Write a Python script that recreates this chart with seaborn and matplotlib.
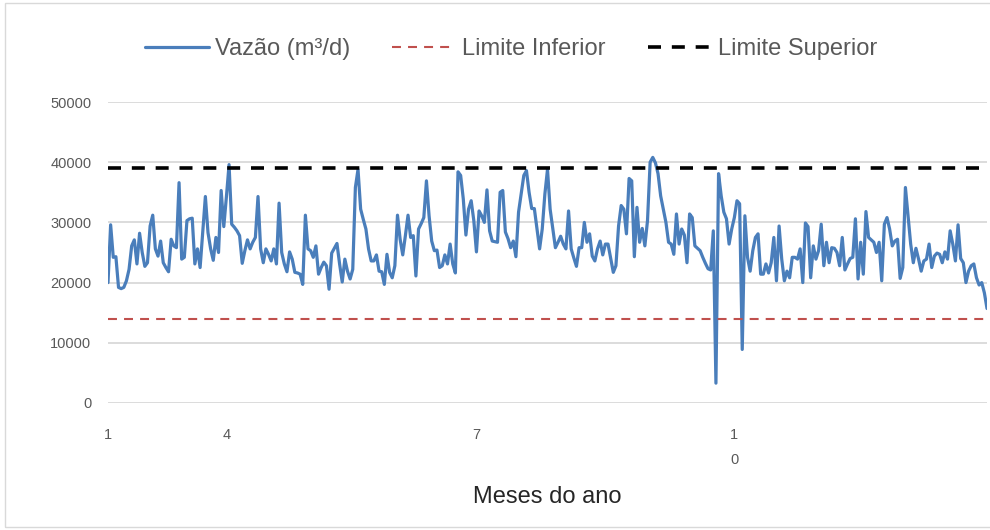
import numpy as np
import pandas as pd
import matplotlib
matplotlib.use("Agg")
import matplotlib.pyplot as plt
from matplotlib.lines import Line2D
from matplotlib.patches import Rectangle
import seaborn as sns

# Daily flow (m³/d) over the year
vazao = [
    20000, 29600, 24200, 24300, 19200, 19000, 19200, 20300, 22200, 26100,
    27100, 23100, 28200, 25000, 22700, 23300, 29400, 31200, 25600, 24400,
    26900, 23300, 22500, 21800, 27200, 26100, 25800, 36600, 23900, 24200,
    30300, 30600, 30700, 23100, 25600, 22500, 28300, 34300, 28300, 25600,
    23700, 27500, 25000, 35300, 29300, 34300, 39600, 29700, 29200, 28600,
    27800, 23200, 25300, 27100, 25600, 26700,
    27500, 34300, 25600, 23300, 25600, 24700, 23600, 25600, 23100, 33200,
    25000, 23100, 21800, 25100, 23900, 21700, 21600, 21400, 19700, 31200,
    25600, 25300, 24200, 26100, 21400, 22500, 23400, 22800, 18900, 24900,
    25700, 26500, 23100, 20100, 23900, 21900, 20600, 22200, 35800, 38800,
    32200, 30500, 28900, 25600, 23600, 23600, 24600, 21900, 21800, 19700,
    24700, 21700, 20800, 22800, 31200,
    27200, 24600, 27800, 31200, 27500, 27800, 21100, 28900, 29800, 30800,
    36900, 31100, 26900, 25300, 25400, 22500, 22800, 24600, 23100, 26400,
    23100, 21600, 38400, 37800, 33900, 27900, 32200, 33600, 30300, 25100,
    31900, 31100, 30000, 35400, 28600, 26900, 26800, 26700, 35000, 35300,
    28400, 27300, 25800, 26900, 24300, 31700, 34700, 37800, 38600, 35000,
    32300, 32300, 29000, 25600, 28900,
    34700, 38800, 32200, 29000, 25800, 26700, 27700, 26400, 25600, 31900,
    25600, 24100, 22700, 25800, 25800, 30000, 26700, 28100, 24400, 23600,
    25600, 26900, 24600, 26400, 26400, 24000, 21700, 22800, 29400, 32800,
    32200, 28100, 37300, 36900, 24300, 32500, 26700, 29000, 26100, 30300,
    40000, 40800, 39900, 38100, 34400, 32200, 30000, 26700, 26400, 24700,
    31400, 26400, 28900, 27900, 23300, 31400,
    30800, 26100, 25700, 25300, 24200, 23200, 22300, 22100, 28600, 3300,
    38100, 34400, 31700, 30600, 26400, 28900, 30800, 33600, 33100, 8900,
    31100, 24200, 21900, 25300, 27500, 28100, 21400, 21400, 23100, 21600,
    23300, 27500, 20300, 29400, 23900, 20300, 21900, 20800, 24200, 24200,
    23900, 25600, 20000, 29900, 29300, 20800, 26100, 23900, 25300, 29700,
    22800, 26700, 23300,
    25800, 25700, 25000, 22800, 27500, 22100, 23100, 24000, 24200, 30600,
    20600, 26700, 21400, 31800, 27500, 27100, 26700, 25000, 26700, 20300,
    29700, 30800, 28900, 26100, 26900, 27200, 20700, 22500, 35800, 31100,
    26400, 23300, 25700, 23900, 21900, 23600, 23900, 26400, 22500, 24400,
    24900, 24700, 23300, 25100, 23900, 28600, 26400, 23600, 29600, 24000,
    23300, 20000, 21900, 22800, 23100, 20800, 19600, 20000, 18300, 15700,
]

limite_inferior = 14000
limite_superior = 39000

mes_ticks = [0, 45, 140, 238]
mes_labels = ["1", "4", "7", "1\n0"]
y_ticks = [0, 10000, 20000, 30000, 40000, 50000]

serie_nomes = ["Vazão (m³/d)", "Limite Inferior", "Limite Superior"]

AZUL = "#4A7EBB"
VERMELHO = "#C0504D"
PRETO = "#000000"
CINZA_TEXTO = "#595959"
CINZA_GRADE = "#D9D9D9"

sns.set_theme(style="white")
plt.rcParams["font.family"] = ["Liberation Sans", "DejaVu Sans"]

fig = plt.figure(figsize=(9.9, 5.3), dpi=100)
ax = fig.add_axes([108 / 990, 1 - 403 / 530, (987 - 108) / 990, (403 - 102) / 530])

df = pd.DataFrame({"dia": np.arange(len(vazao)), "vazao": vazao})
sns.lineplot(data=df, x="dia", y="vazao", ax=ax, color=AZUL, linewidth=2.3,
             zorder=3, legend=False)

estilo_inf = dict(color=VERMELHO, linewidth=1.5, linestyle=(0, (4.3, 3.4)))
estilo_sup = dict(color=PRETO, linewidth=2.6, linestyle=(0, (3.6, 3.0)))
ax.axhline(limite_inferior, zorder=4, **estilo_inf)
ax.axhline(limite_superior, zorder=4, **estilo_sup)

ax.set_xlim(0, len(vazao) - 1)
ax.set_ylim(0, 50000)
ax.set_yticks(y_ticks)
ax.set_yticklabels([str(v) for v in y_ticks])
ax.set_xticks(mes_ticks)
ax.set_xticklabels(mes_labels)
for lab in ax.get_xticklabels():
    lab.set_linespacing(2.0)

ax.yaxis.grid(True, color=CINZA_GRADE, linewidth=1.3)
ax.xaxis.grid(False)
ax.set_axisbelow(True)
for s in ax.spines.values():
    s.set_visible(False)

ax.tick_params(axis="y", length=0, pad=12, labelsize=10.5, labelcolor=CINZA_TEXTO)
ax.tick_params(axis="x", length=0, pad=18, labelsize=10.5, labelcolor=CINZA_TEXTO)

ax.set_ylabel("")
ax.set_xlabel("Meses do ano", fontsize=17, color="#262626", va="center")
ax.xaxis.set_label_coords(0.5, -0.312)

handles = [
    Line2D([], [], color=AZUL, linewidth=2.3),
    Line2D([], [], **estilo_inf),
    Line2D([], [], **estilo_sup),
]
fig.legend(handles, serie_nomes, loc="center", bbox_to_anchor=(0.516, 0.907),
           ncol=3, frameon=False, fontsize=17, handlelength=2.7,
           handletextpad=0.25, columnspacing=1.8, labelcolor=CINZA_TEXTO)

fig.patches.append(Rectangle((5 / 990, 3 / 530), 990 / 990, 524 / 530,
                             transform=fig.transFigure, fill=False,
                             edgecolor=CINZA_GRADE, linewidth=1.0))

fig.savefig("out.png", dpi=100)
